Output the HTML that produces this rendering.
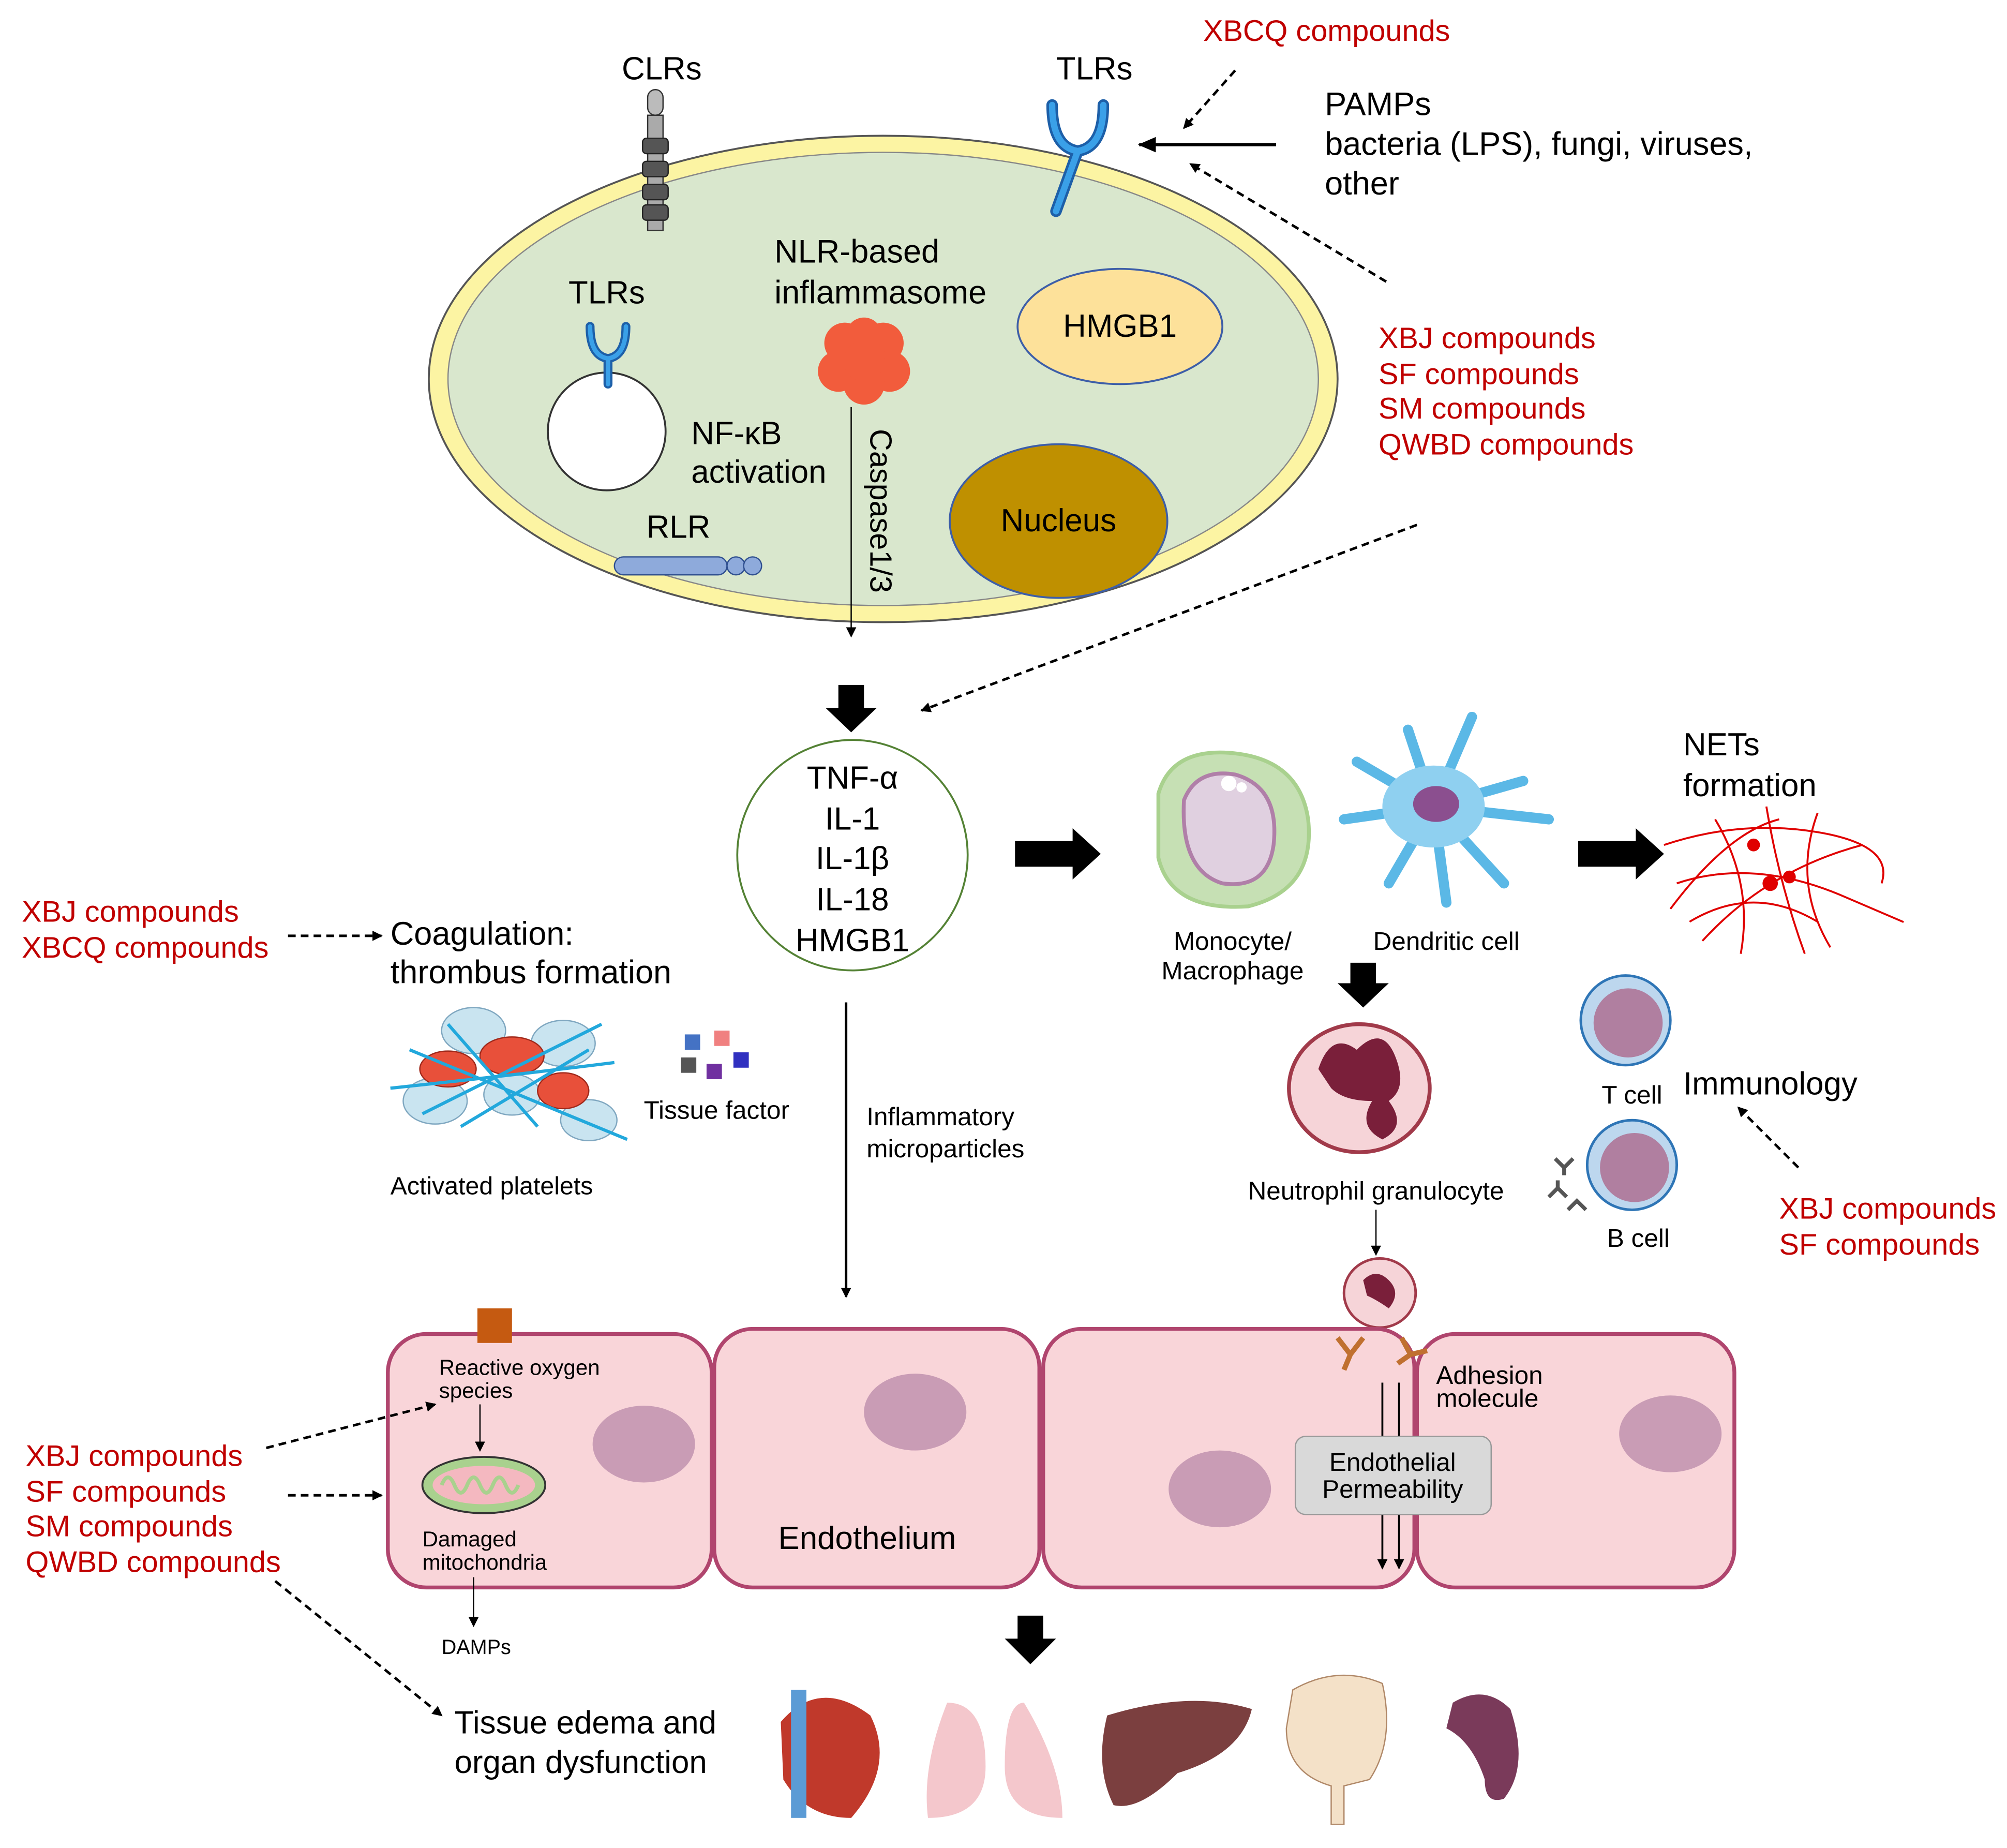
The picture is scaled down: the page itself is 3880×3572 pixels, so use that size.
<!DOCTYPE html>
<html><head><style>html,body{margin:0;padding:0;background:#fff}svg{display:block}</style></head>
<body>
<svg width="3880" height="3572" viewBox="0 0 1568 1443.5" xmlns="http://www.w3.org/2000/svg" font-family="Liberation Sans, sans-serif">
<defs>
<marker id="a" markerWidth="8" markerHeight="8" refX="7" refY="4" orient="auto" markerUnits="userSpaceOnUse" viewBox="0 0 8 8"><path d="M0,0 L8,4 L0,8 z" fill="#000"/></marker>
<marker id="b" markerWidth="14" markerHeight="14" refX="13" refY="7" orient="auto" markerUnits="userSpaceOnUse" viewBox="0 0 14 14"><path d="M0,1 L14,7 L0,13 z" fill="#000"/></marker>
</defs>
<rect width="1568" height="1444" fill="#fff"/>
<ellipse cx="690" cy="296" rx="355" ry="190" fill="#fcf4a3" stroke="#555" stroke-width="1.5"/>
<ellipse cx="690" cy="296" rx="340" ry="177" fill="#d9e7cd" stroke="#888" stroke-width="1"/>
<text x="517" y="62" font-size="25" text-anchor="middle">CLRs</text>
<rect x="506" y="70" width="12" height="20" rx="6" fill="#bbb" stroke="#333"/>
<rect x="506" y="90" width="12" height="90" fill="#aaa" stroke="#333"/>
<g fill="#555" stroke="#222"><rect x="502" y="108" width="20" height="12" rx="3"/><rect x="502" y="126" width="20" height="12" rx="3"/><rect x="502" y="144" width="20" height="12" rx="3"/><rect x="502" y="160" width="20" height="12" rx="3"/></g>
<text x="855" y="62" font-size="25" text-anchor="middle">TLRs</text>
<path d="M822,82 Q822,115 842,118 Q862,115 862,82 M842,118 L825,165" fill="none" stroke="#1d5fa8" stroke-width="9" stroke-linecap="round"/>
<path d="M822,82 Q822,115 842,118 Q862,115 862,82 M842,118 L825,165" fill="none" stroke="#3aa0e8" stroke-width="5" stroke-linecap="round"/>
<text x="1035" y="90" font-size="25.5">PAMPs</text>
<text x="1035" y="121" font-size="25.5">bacteria (LPS), fungi, viruses,</text>
<text x="1035" y="152" font-size="25.5">other</text>
<line x1="997" y1="113" x2="890" y2="113" stroke="#000" stroke-width="2.5" marker-end="url(#b)"/>
<text x="940" y="32" font-size="23.3" fill="#c00000">XBCQ compounds</text>
<ellipse cx="875" cy="255" rx="80" ry="45" fill="#fde19a" stroke="#3d5ea8" stroke-width="1.5"/>
<text x="875" y="263" font-size="25" text-anchor="middle">HMGB1</text>
<ellipse cx="827" cy="407" rx="85" ry="60" fill="#bf9000" stroke="#3d5ea8" stroke-width="1.5"/>
<text x="827" y="415" font-size="25" text-anchor="middle">Nucleus</text>
<text x="474" y="237" font-size="25" text-anchor="middle">TLRs</text>
<circle cx="474" cy="337" r="46" fill="#fff" stroke="#333" stroke-width="1.5"/>
<path d="M461,255 Q461,278 475,280 Q489,278 489,255 M475,280 L475,300" fill="none" stroke="#1d5fa8" stroke-width="7" stroke-linecap="round"/>
<path d="M461,255 Q461,278 475,280 Q489,278 489,255 M475,280 L475,300" fill="none" stroke="#3aa0e8" stroke-width="3.5" stroke-linecap="round"/>
<text x="540" y="347" font-size="25">NF-κB</text>
<text x="540" y="377" font-size="25">activation</text>
<text x="530" y="420" font-size="25" text-anchor="middle">RLR</text>
<rect x="480" y="435" width="88" height="14" rx="7" fill="#8eaadb" stroke="#2f4f8f"/>
<circle cx="575" cy="442" r="7" fill="#8eaadb" stroke="#2f4f8f"/><circle cx="588" cy="442" r="7" fill="#8eaadb" stroke="#2f4f8f"/>
<text x="605" y="205" font-size="25.5">NLR-based</text>
<text x="605" y="237" font-size="25.5">inflammasome</text>
<g fill="#f25c3c"><circle cx="660" cy="268" r="16"/><circle cx="690" cy="268" r="16"/><circle cx="655" cy="290" r="16"/><circle cx="695" cy="290" r="16"/><circle cx="675" cy="300" r="16"/><circle cx="675" cy="262" r="14"/><circle cx="675" cy="282" r="16"/></g>
<line x1="665" y1="318" x2="665" y2="497" stroke="#000" stroke-width="1" marker-end="url(#a)"/>
<text transform="translate(680,335) rotate(90)" font-size="24">Caspase1/3</text>
<polygon points="655,535 675,535 675,553 685,553 665,572 645,553 655,553" fill="#000"/>
<polygon points="793,657 838,657 838,647 860,667 838,687 838,677 793,677" fill="#000"/>
<polygon points="1233,657 1278,657 1278,647 1300,667 1278,687 1278,677 1233,677" fill="#000"/>
<polygon points="1055,752 1075,752 1075,768 1085,768 1065,787 1045,768 1055,768" fill="#000"/>
<polygon points="795,1262 815,1262 815,1280 825,1280 805,1300 785,1280 795,1280" fill="#000"/>
<circle cx="666" cy="668" r="90" fill="#fff" stroke="#548235" stroke-width="1.5"/>
<g font-size="25" text-anchor="middle"><text x="666" y="616">TNF-α</text><text x="666" y="648">IL-1</text><text x="666" y="679">IL-1β</text><text x="666" y="711">IL-18</text><text x="666" y="743">HMGB1</text></g>
<path d="M905,620 Q915,585 960,588 Q1015,592 1022,640 Q1028,695 975,708 Q915,712 905,670 Z" fill="#c6e0b4" stroke="#a9d18e" stroke-width="3"/>
<path d="M925,625 Q935,600 965,605 Q1000,615 995,660 Q990,695 955,690 Q922,680 925,625 Z" fill="#e0d0e0" stroke="#b07fa8" stroke-width="3"/>
<circle cx="960" cy="612" r="6" fill="#fff"/><circle cx="970" cy="615" r="4" fill="#fff"/>
<text x="963" y="742" font-size="20" text-anchor="middle">Monocyte/</text>
<text x="963" y="765" font-size="20" text-anchor="middle">Macrophage</text>
<g stroke="#5bb8e6" stroke-width="8" stroke-linecap="round" fill="none">
<path d="M1120,630 L1060,595 M1120,630 L1100,570 M1120,630 L1150,560 M1120,630 L1190,610 M1120,630 L1210,640 M1120,630 L1175,690 M1120,630 L1130,705 M1120,630 L1085,690 M1120,630 L1050,640"/>
</g>
<ellipse cx="1120" cy="630" rx="40" ry="32" fill="#8fd0f0"/>
<ellipse cx="1122" cy="628" rx="18" ry="14" fill="#8b4f8f"/>
<text x="1130" y="742" font-size="20" text-anchor="middle">Dendritic cell</text>
<text x="1315" y="590" font-size="25">NETs</text>
<text x="1315" y="622" font-size="25">formation</text>
<g stroke="#e00000" stroke-width="1.5" fill="none">
<path d="M1300,660 Q1360,640 1420,650 T1470,690 M1310,690 Q1370,670 1440,700 T1475,715 M1320,720 Q1370,690 1420,720 M1340,640 Q1370,690 1360,745 M1380,630 Q1390,690 1410,745 M1420,635 Q1400,690 1430,740 M1305,710 Q1350,650 1390,640 M1330,735 Q1380,680 1455,660"/>
</g>
<circle cx="1370" cy="660" r="5" fill="#e00000"/><circle cx="1383" cy="690" r="6" fill="#e00000"/><circle cx="1398" cy="685" r="5" fill="#e00000"/>
<ellipse cx="1062" cy="850" rx="55" ry="50" fill="#f6d4d8" stroke="#a13a4a" stroke-width="3"/>
<path d="M1030,835 Q1040,805 1060,820 Q1080,800 1090,825 Q1100,850 1085,860 Q1100,880 1080,890 Q1060,880 1072,860 Q1050,860 1040,850 Z" fill="#7a1f3a"/>
<text x="1075" y="937" font-size="20" text-anchor="middle">Neutrophil granulocyte</text>
<line x1="1075" y1="945" x2="1075" y2="980" stroke="#000" stroke-width="1" marker-end="url(#a)"/>
<ellipse cx="1078" cy="1010" rx="28" ry="27" fill="#f6d4d8" stroke="#a13a4a" stroke-width="2"/>
<path d="M1065,1000 Q1075,990 1085,1000 Q1095,1010 1085,1022 Q1075,1015 1068,1012 Z" fill="#7a1f3a"/>
<circle cx="1270" cy="797" r="35" fill="#bdd7ee" stroke="#2e75b6" stroke-width="2"/>
<circle cx="1272" cy="799" r="27" fill="#b07fa0"/>
<text x="1275" y="862" font-size="20" text-anchor="middle">T cell</text>
<circle cx="1275" cy="910" r="35" fill="#bdd7ee" stroke="#2e75b6" stroke-width="2"/>
<circle cx="1277" cy="912" r="27" fill="#b07fa0"/>
<text x="1280" y="974" font-size="20" text-anchor="middle">B cell</text>
<g stroke="#555" stroke-width="3" fill="none"><path d="M1215,905 L1222,912 L1229,905 M1222,912 L1222,918"/><path d="M1210,935 L1217,928 L1224,935 M1217,928 L1217,922"/><path d="M1225,945 L1232,938 L1239,945"/></g>
<text x="1315" y="855" font-size="25">Immunology</text>
<text x="305" y="738" font-size="25.5">Coagulation:</text>
<text x="305" y="768" font-size="25.5">thrombus formation</text>
<g fill="#c9e4f0" stroke="#7fa7c0"><ellipse cx="370" cy="805" rx="25" ry="18"/><ellipse cx="440" cy="815" rx="25" ry="18"/><ellipse cx="340" cy="860" rx="25" ry="18"/><ellipse cx="460" cy="875" rx="22" ry="16"/><ellipse cx="400" cy="855" rx="22" ry="16"/></g>
<g fill="#e8503a" stroke="#a0281a"><ellipse cx="350" cy="835" rx="22" ry="14"/><ellipse cx="400" cy="825" rx="25" ry="15"/><ellipse cx="440" cy="852" rx="20" ry="14"/></g>
<g stroke="#22a8dc" stroke-width="2.5" fill="none"><path d="M320,820 L490,890 M330,870 L470,800 M350,800 L420,880 M305,850 Q400,840 480,830 M360,880 L460,820"/></g>
<text x="305" y="933" font-size="19.5">Activated platelets</text>
<rect x="535" y="808" width="12" height="12" fill="#4472c4"/><rect x="558" y="805" width="12" height="12" fill="#f08080"/><rect x="532" y="826" width="12" height="12" fill="#555"/><rect x="552" y="831" width="12" height="12" fill="#7030a0"/><rect x="573" y="822" width="12" height="12" fill="#3030c0"/>
<text x="503" y="874" font-size="20">Tissue factor</text>
<line x1="661" y1="783" x2="661" y2="1013" stroke="#000" stroke-width="2" marker-end="url(#a)"/>
<text x="677" y="879" font-size="20">Inflammatory</text>
<text x="677" y="904" font-size="20">microparticles</text>
<g fill="#f9d5d9" stroke="#b0456e" stroke-width="3">
<rect x="303" y="1042" width="253" height="198" rx="30"/>
<rect x="558" y="1038" width="254" height="202" rx="30"/>
<rect x="815" y="1038" width="290" height="202" rx="30"/>
<rect x="1107" y="1042" width="248" height="198" rx="30"/>
</g>
<g fill="#c99cb5"><ellipse cx="503" cy="1128" rx="40" ry="30"/><ellipse cx="715" cy="1103" rx="40" ry="30"/><ellipse cx="953" cy="1163" rx="40" ry="30"/><ellipse cx="1305" cy="1120" rx="40" ry="30"/></g>
<rect x="373" y="1022" width="27" height="27" fill="#c55a11"/>
<text x="343" y="1074" font-size="17">Reactive oxygen</text>
<text x="343" y="1092" font-size="17">species</text>
<line x1="375" y1="1097" x2="375" y2="1133" stroke="#000" marker-end="url(#a)"/>
<ellipse cx="378" cy="1160" rx="48" ry="22" fill="#a9d18e" stroke="#333" stroke-width="1.5"/>
<ellipse cx="378" cy="1160" rx="40" ry="15" fill="#f4b8c0"/>
<path d="M345,1160 q5,-12 10,0 t10,0 t10,0 t10,0 t10,0 t10,0" fill="none" stroke="#a9d18e" stroke-width="3"/>
<text x="330" y="1208" font-size="17">Damaged</text>
<text x="330" y="1226" font-size="17">mitochondria</text>
<line x1="370" y1="1232" x2="370" y2="1270" stroke="#000" marker-end="url(#a)"/>
<text x="345" y="1292" font-size="16">DAMPs</text>
<text x="608" y="1210" font-size="25">Endothelium</text>
<g stroke="#c07030" stroke-width="4" fill="none"><path d="M1045,1045 L1055,1058 L1065,1045 M1055,1058 L1050,1070"/><path d="M1095,1045 L1102,1058 L1115,1055 M1102,1058 L1092,1065"/></g>
<text x="1122" y="1081" font-size="20">Adhesion</text>
<text x="1122" y="1099" font-size="20">molecule</text>
<line x1="1080" y1="1080" x2="1080" y2="1225" stroke="#000" stroke-width="1.5" marker-end="url(#a)"/>
<line x1="1093" y1="1080" x2="1093" y2="1225" stroke="#000" stroke-width="1.5" marker-end="url(#a)"/>
<rect x="1012" y="1122" width="153" height="61" rx="8" fill="#d9d9d9" stroke="#999"/>
<text x="1088" y="1149" font-size="20" text-anchor="middle">Endothelial</text>
<text x="1088" y="1170" font-size="20" text-anchor="middle">Permeability</text>
<text x="355" y="1354" font-size="25">Tissue edema and</text>
<text x="355" y="1385" font-size="25">organ dysfunction</text>
<g stroke="#000" stroke-width="2" stroke-dasharray="6,4" fill="none">
<line x1="965" y1="55" x2="925" y2="100" marker-end="url(#a)"/>
<line x1="1083" y1="220" x2="930" y2="128" marker-end="url(#a)"/>
<line x1="1107" y1="410" x2="720" y2="555" marker-end="url(#a)"/>
<line x1="225" y1="731" x2="298" y2="731" marker-end="url(#a)"/>
<line x1="1405" y1="912" x2="1358" y2="865" marker-end="url(#a)"/>
<line x1="208" y1="1131" x2="340" y2="1097" marker-end="url(#a)"/>
<line x1="225" y1="1168" x2="298" y2="1168" marker-end="url(#a)"/>
<line x1="215" y1="1235" x2="345" y2="1340" marker-end="url(#a)"/>
</g>
<g font-size="23.3" fill="#c00000">
<text x="1077" y="272">XBJ compounds</text><text x="1077" y="300">SF compounds</text><text x="1077" y="327">SM compounds</text><text x="1077" y="355">QWBD compounds</text>
<text x="17" y="720">XBJ compounds</text><text x="17" y="748">XBCQ compounds</text>
<text x="1390" y="952">XBJ compounds</text><text x="1390" y="980">SF compounds</text>
<text x="20" y="1145">XBJ compounds</text><text x="20" y="1173">SF compounds</text><text x="20" y="1200">SM compounds</text><text x="20" y="1228">QWBD compounds</text>
</g>
<path d="M610,1345 Q640,1310 680,1340 Q700,1380 665,1420 Q630,1420 612,1390 Z" fill="#c0392b"/>
<rect x="618" y="1320" width="12" height="100" fill="#5b9bd5"/>
<path d="M740,1330 Q720,1380 725,1420 Q770,1420 770,1380 Q770,1330 740,1330 Z M800,1330 Q830,1380 830,1420 Q785,1420 785,1380 Q785,1330 800,1330 Z" fill="#f4c7cc"/>
<path d="M865,1340 Q930,1320 978,1335 Q970,1370 920,1385 Q890,1415 870,1410 Q855,1380 865,1340 Z" fill="#7b3f3f"/>
<path d="M1010,1320 Q1045,1300 1080,1315 Q1090,1360 1070,1390 L1050,1395 L1050,1425 L1040,1425 L1040,1395 Q1005,1385 1005,1350 Z" fill="#f4e1c8" stroke="#b08868"/>
<path d="M1135,1330 Q1160,1315 1180,1335 Q1195,1380 1175,1405 Q1160,1410 1160,1390 Q1150,1360 1130,1350 Z" fill="#7a3a5a"/>
</svg>
</body></html>
